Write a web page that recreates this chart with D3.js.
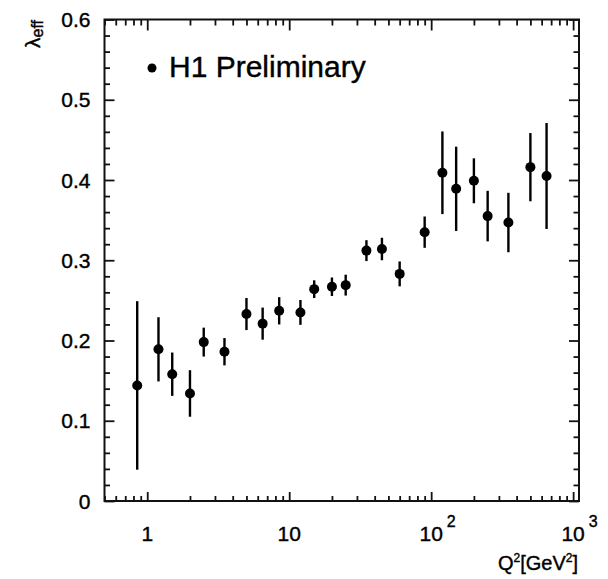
<!DOCTYPE html>
<html>
<head>
<meta charset="utf-8">
<script src="https://cdn.jsdelivr.net/npm/d3@7"></script>
<style>
  body { margin: 0; background: #fff; }
  text { font-family: "Liberation Sans", Arial, Helvetica, sans-serif; fill: #000; stroke: #000; stroke-width: 0.4px; }
</style>
</head>
<body>
<div id="chart"></div>
<script>
// Q^2 bins and measured lambda_eff with (symmetric) errors
const q2 = [0.85, 1.2, 1.5, 2, 2.5, 3.5, 5, 6.5, 8.5, 12, 15, 20, 25, 35, 45, 60, 90, 120, 150, 200, 250, 350, 500, 650];
const lambdaEff = [0.144, 0.189, 0.158, 0.134, 0.198, 0.186, 0.233, 0.221, 0.237, 0.235, 0.264, 0.267, 0.269,
                   0.312, 0.314, 0.283, 0.335, 0.409, 0.389, 0.399, 0.355, 0.347, 0.416, 0.405];
const lambdaErr = [0.105, 0.040, 0.027, 0.029, 0.018, 0.017, 0.020, 0.020, 0.017, 0.0155, 0.011, 0.0115, 0.013,
                   0.013, 0.014, 0.0155, 0.0195, 0.0515, 0.0525, 0.028, 0.0315, 0.037, 0.0425, 0.066];

const xMajor = [1, 10, 100, 1000];
const xLabels = [["1", ""], ["10", ""], ["10", "2"], ["10", "3"]];
const yMajor = [0, 0.1, 0.2, 0.3, 0.4, 0.5, 0.6];
const yLabels = ["0", "0.1", "0.2", "0.3", "0.4", "0.5", "0.6"];

const W = 608, H = 579;
const frame = {left: 104.5, right: 579, top: 19.5, bottom: 501};

const svg = d3.select("#chart").append("svg")
    .attr("width", W)
    .attr("height", H);

const x = d3.scaleLog().domain([0.5, 1100]).range([frame.left, frame.right]);
const y = d3.scaleLinear().domain([0, 0.6]).range([frame.bottom, frame.top]);

// minor ticks
const xMinor = [];
[0.1, 1, 10, 100].forEach(d => {
    for (let k = 2; k <= 9; k++) {
        const v = d * k;
        if (v >= 0.5 && v <= 1100) xMinor.push(v);
    }
});
const yMinor = d3.range(0, 0.601, 0.02).filter(v => Math.abs(v * 10 - Math.round(v * 10)) > 1e-6);

function tickAxis(axis, pos, size) {
    const g = svg.append("g")
        .attr("transform", pos)
        .call(axis.tickSizeInner(size).tickSizeOuter(0).tickFormat(""));
    g.select(".domain").remove();
    g.selectAll("line").attr("stroke", "#111").attr("stroke-width", 1.8);
    return g;
}

// bottom / top
tickAxis(d3.axisBottom(x).tickValues(xMajor), `translate(0,${frame.bottom})`, -9);
tickAxis(d3.axisBottom(x).tickValues(xMinor), `translate(0,${frame.bottom})`, -5);
tickAxis(d3.axisTop(x).tickValues(xMajor), `translate(0,${frame.top})`, -11);
tickAxis(d3.axisTop(x).tickValues(xMinor), `translate(0,${frame.top})`, -6);
// left / right
tickAxis(d3.axisLeft(y).tickValues(yMajor), `translate(${frame.left},0)`, -10);
tickAxis(d3.axisLeft(y).tickValues(yMinor), `translate(${frame.left},0)`, -5.5);
tickAxis(d3.axisRight(y).tickValues(yMajor), `translate(${frame.right},0)`, -10);
tickAxis(d3.axisRight(y).tickValues(yMinor), `translate(${frame.right},0)`, -5.5);

// frame
svg.append("rect")
    .attr("x", frame.left)
    .attr("y", frame.top)
    .attr("width", frame.right - frame.left)
    .attr("height", frame.bottom - frame.top)
    .attr("fill", "none")
    .attr("stroke", "#111")
    .attr("stroke-width", 2);

// y tick labels
svg.selectAll(".ylab")
    .data(yMajor)
    .join("text")
    .attr("class", "ylab")
    .attr("x", frame.left - 14)
    .attr("y", d => y(d))
    .attr("dy", "0.36em")
    .attr("text-anchor", "end")
    .style("font-size", "21px")
    .text((d, i) => yLabels[i]);

// x tick labels (10^n with superscript)
const xl = svg.selectAll(".xlab")
    .data(xMajor)
    .join("text")
    .attr("class", "xlab")
    .attr("x", (d, i) => x(d) - (xLabels[i][0].length * 11.7) / 2)
    .attr("y", 541)
    .style("font-size", "21px");
xl.append("tspan").text((d, i) => xLabels[i][0]);
xl.append("tspan")
    .attr("dx", 4)
    .attr("dy", -14)
    .style("font-size", "16px")
    .text((d, i) => xLabels[i][1]);

// x axis title
const xt = svg.append("text")
    .attr("x", 578)
    .attr("y", 570)
    .attr("text-anchor", "end")
    .style("font-size", "20px");
xt.append("tspan").text("Q");
xt.append("tspan").attr("dy", -8).style("font-size", "12px").text("2");
xt.append("tspan").attr("dy", 8).text("[GeV");
xt.append("tspan").attr("dy", -8).style("font-size", "12px").text("2");
xt.append("tspan").attr("dy", 8).text("]");

// y axis title
const yt = svg.append("text")
    .attr("transform", "translate(40,20) rotate(-90)")
    .attr("text-anchor", "end")
    .style("font-size", "21px");
yt.append("tspan").text("λ");
yt.append("tspan").attr("dy", 3).style("font-size", "16px").text("eff");

// error bars
const pts = q2.map((q, i) => ({q: q, v: lambdaEff[i], e: lambdaErr[i]}));
svg.selectAll(".err")
    .data(pts)
    .join("line")
    .attr("class", "err")
    .attr("x1", d => x(d.q))
    .attr("x2", d => x(d.q))
    .attr("y1", d => y(d.v - d.e))
    .attr("y2", d => y(d.v + d.e))
    .attr("stroke", "#000")
    .attr("stroke-width", 2.4);

// markers
svg.selectAll(".pt")
    .data(pts)
    .join("circle")
    .attr("class", "pt")
    .attr("cx", d => x(d.q))
    .attr("cy", d => y(d.v))
    .attr("r", 5)
    .attr("fill", "#000");

// legend
svg.append("circle")
    .attr("cx", 152)
    .attr("cy", 68)
    .attr("r", 4.5)
    .attr("fill", "#000");
svg.append("text")
    .attr("x", 169)
    .attr("y", 77)
    .style("font-size", "30px")
    .text("H1 Preliminary");
</script>
</body>
</html>
